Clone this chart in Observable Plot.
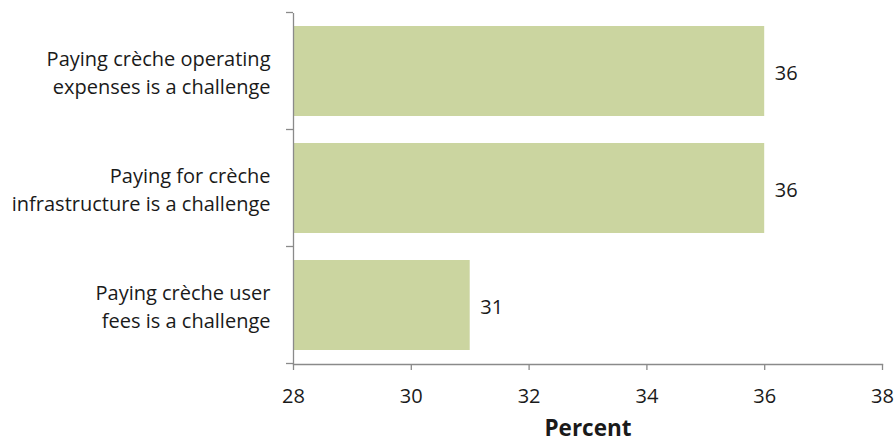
<!DOCTYPE html>
<html>
<head>
<meta charset="utf-8">
<script src="https://cdn.jsdelivr.net/npm/d3@7"></script>
<script src="https://cdn.jsdelivr.net/npm/@observablehq/plot@0.6"></script>
<style>
  html, body { margin: 0; padding: 0; background: #fff; }
  #chart svg { font-family: "Open Sans", "Noto Sans", sans-serif; }
</style>
</head>
<body>
<div id="chart"></div>
<script>
// Survey responses: share of respondents reporting each crèche cost challenge
const categories = [
  "Paying crèche operating\nexpenses is a challenge",
  "Paying for crèche\ninfrastructure is a challenge",
  "Paying crèche user\nfees is a challenge"
];
const values = [36, 36, 31];
const xTicks = [28, 30, 32, 34, 36, 38];
const xDomain = [28, 38];
const axisLabel = "Percent";

const data = categories.map((c, i) => ({category: c, value: values[i]}));

const axisColor = "#8a8a8a";
const textColor = "#1a1a1a";

// Small ticks on the left of the y axis at the boundaries between categories
function bandBoundaryTicks(index, scales, values, dimensions) {
  const y = scales.y;
  const step = y.step();
  const half = (step - y.bandwidth()) / 2;
  const x0 = dimensions.marginLeft;
  const edges = categories.map(c => y(c) - half);
  edges.push(y(categories[categories.length - 1]) + y.bandwidth() + half);
  const g = d3.create("svg:g");
  g.selectAll("line")
    .data(edges)
    .join("line")
    .attr("x1", x0 - 7)
    .attr("x2", x0)
    .attr("y1", d => d)
    .attr("y2", d => d)
    .attr("stroke", axisColor)
    .attr("stroke-width", 1.3);
  return g.node();
}

const chart = Plot.plot({
  width: 895,
  height: 441,
  marginLeft: 293,
  marginRight: 13,
  marginTop: 13,
  marginBottom: 77,
  style: {fontSize: "20px", color: textColor, background: "#fff"},
  x: {domain: xDomain, ticks: xTicks},
  y: {domain: categories, paddingInner: 0.23, paddingOuter: 0.115, axis: null},
  marks: [
    Plot.barX(data, {x1: xDomain[0], x2: "value", y: "category", fill: "#cbd5a0"}),
    Plot.ruleX([xDomain[0]], {stroke: axisColor, strokeWidth: 1.3}),
    Plot.frame({anchor: "bottom", stroke: axisColor, strokeWidth: 1.3}),
    bandBoundaryTicks,
    Plot.axisX({
      ticks: xTicks,
      tickSize: 6,
      tickPadding: 18,
      stroke: axisColor,
      strokeWidth: 1.3,
      fill: textColor,
      fontSize: 20,
      label: null
    }),
    Plot.text(data, {
      x: xDomain[0],
      y: "category",
      text: "category",
      textAnchor: "end",
      dx: -23,
      lineHeight: 1.4,
      fontSize: 20,
      fill: textColor
    }),
    Plot.text(data, {
      x: "value",
      y: "category",
      text: d => String(d.value),
      textAnchor: "start",
      dx: 10,
      dy: 2,
      fontSize: 20,
      fill: textColor
    }),
    Plot.text([axisLabel], {
      frameAnchor: "bottom",
      dy: 71,
      fontSize: 22.5,
      fontWeight: "bold",
      fill: textColor
    })
  ]
});

document.getElementById("chart").append(chart);
</script>
</body>
</html>
